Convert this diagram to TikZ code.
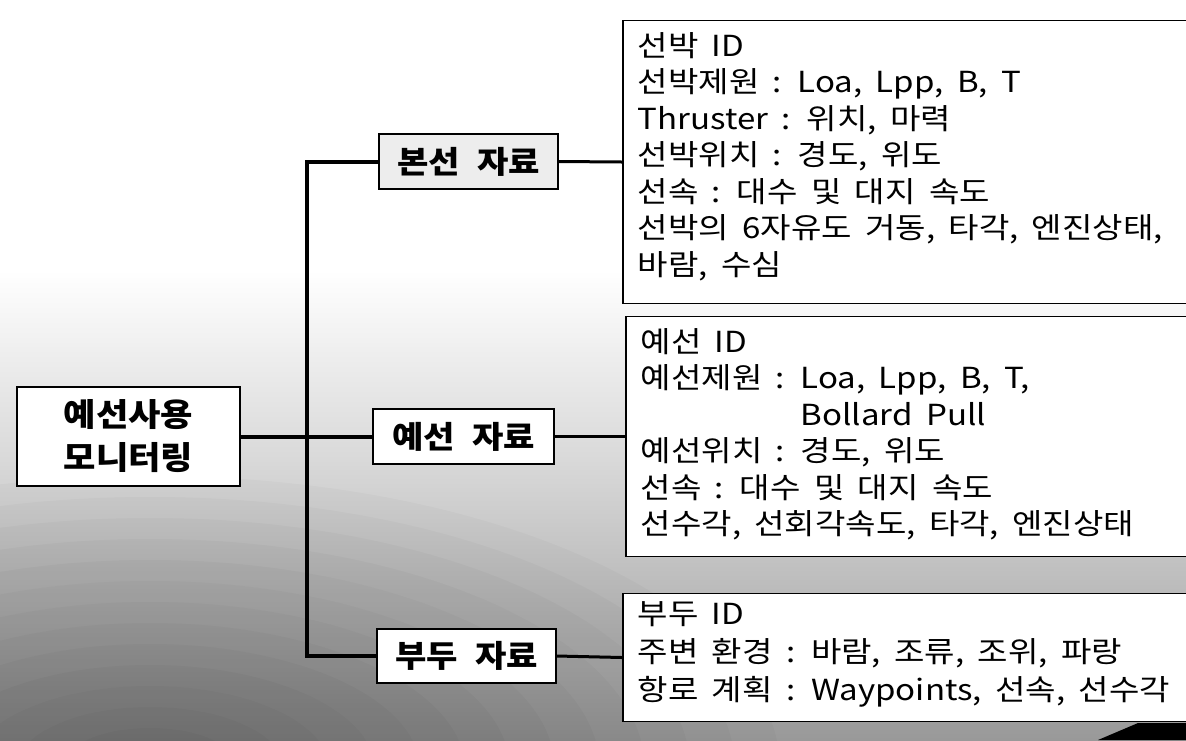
\documentclass[tikz,border=0pt]{standalone}
\usepackage{fontspec}
\newfontfamily\kr[WordSpace=1.8,FakeStretch=1.14]{Noto Sans CJK KR}
\newfontfamily\krb[WordSpace=2.2,FakeStretch=1.1]{Noto Sans CJK KR}
\newcommand{\infopanel}[4]{\begin{minipage}[c][#1][t]{620pt}\kr\fontsize{29}{#3}\selectfont\raggedright\parindent=0pt\vspace*{#2}#4\end{minipage}}
\begin{document}
\begin{tikzpicture}[x=1pt,y=-1pt,
  labelbox/.style={draw=black,line width=1.6pt,fill=white,inner sep=0pt,
    font=\krb\bfseries\fontsize{31}{38}\selectfont},
  infobox/.style={draw=black,line width=1.6pt,fill=white,anchor=west,
    inner xsep=15pt,inner ysep=0pt},
  trunk/.style={line width=4pt,black},
  branch/.style={line width=3pt,black}]
\useasboundingbox (0,0) rectangle (1186,740);
\clip (0,0) rectangle (1186,740);
% background (halftone sky / sea approximated by shadings)
\fill[white] (0,0) rectangle (1186,740);
\shade[top color=white,bottom color=black!15] (0,270) rectangle (1186,460);
\shade[top color=black!15,bottom color=black!40] (0,460) rectangle (1186,740);
\foreach \r in {1,...,14}{\fill[black,opacity=0.025] (150,770) ellipse ({45*\r} and {21*\r});}
\fill[black] (1098,740) -- (1138,723) -- (1186,723) -- (1186,740) -- cycle;
% nodes
\node[labelbox,minimum width=223pt,minimum height=99pt,align=center,
  font=\krb\bfseries\fontsize{32}{43}\selectfont] (main) at (128.5,436.5) {예선사용\\모니터링};
\node[labelbox,fill=black!7,minimum width=179pt,minimum height=55pt] (bonseon) at (468.5,161.5) {본선 자료};
\node[labelbox,minimum width=181pt,minimum height=55pt] (yeseon) at (463.5,436.5) {예선 자료};
\node[labelbox,minimum width=179pt,minimum height=54pt] (budu) at (466.5,656) {부두 자료};
\node[infobox] (info1) at (622,162) {\infopanel{283pt}{12pt}{36.5}{선박 ID\\
선박제원 : Loa, Lpp, B, T\\
Thruster : 위치, 마력\\
선박위치 : 경도, 위도\\
선속 : 대수 및 대지 속도\\
선박의 6자유도 거동, 타각, 엔진상태,\\
바람, 수심}};
\node[infobox] (info2) at (625,436.5) {\infopanel{240pt}{12pt}{36.5}{예선 ID\\
예선제원 : Loa, Lpp, B, T,\\
\phantom{예선제원 : }Bollard Pull\\
예선위치 : 경도, 위도\\
선속 : 대수 및 대지 속도\\
선수각, 선회각속도, 타각, 엔진상태}};
\node[infobox] (info3) at (622,657.5) {\infopanel{128pt}{8pt}{38}{부두 ID\\
주변 환경 : 바람, 조류, 조위, 파랑\\
항로 계획 : Waypoints, 선속, 선수각}};
% connectors
\coordinate (jtop) at (307,161.5);
\coordinate (jmid) at (307,436.5);
\coordinate (jbot) at (307,656);
\draw[trunk] (bonseon.west) -- (jtop) -- (jbot) -- (budu.west);
\draw[trunk] (main.east) -- (jmid) -- (yeseon.west);
\draw[branch] (bonseon.east) -- (info1.west);
\draw[branch] (yeseon.east) -- (info2.west);
\draw[branch] (budu.east) -- (info3.west);
\end{tikzpicture}
\end{document}
